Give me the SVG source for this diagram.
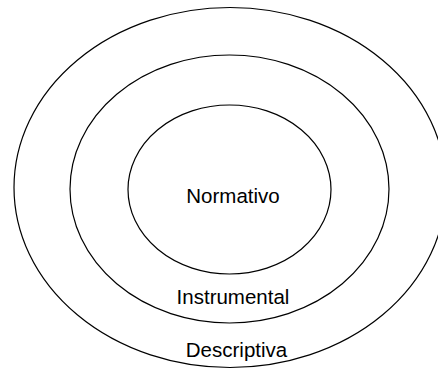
<svg xmlns="http://www.w3.org/2000/svg" width="438" height="369" viewBox="0 0 438 369">
<style>
.ring{fill:none;stroke:#000;stroke-width:1.2}
.lbl{font-family:"Liberation Sans",Arial,sans-serif;font-size:20.5px;fill:#000;text-anchor:middle}
</style>
<rect width="438" height="369" fill="#fff"/>
<g id="descriptiva">
<ellipse class="ring" cx="230" cy="187.5" rx="216" ry="180"/>
<text class="lbl" x="236.5" y="357">Descriptiva</text>
</g>
<g id="instrumental">
<ellipse class="ring" cx="229.5" cy="189" rx="159.5" ry="134"/>
<text class="lbl" x="233" y="304">Instrumental</text>
</g>
<g id="normativo">
<ellipse class="ring" cx="229.5" cy="189.5" rx="101.5" ry="84.5"/>
<text class="lbl" x="233" y="203">Normativo</text>
</g>
<g id="connectors"></g>
</svg>
